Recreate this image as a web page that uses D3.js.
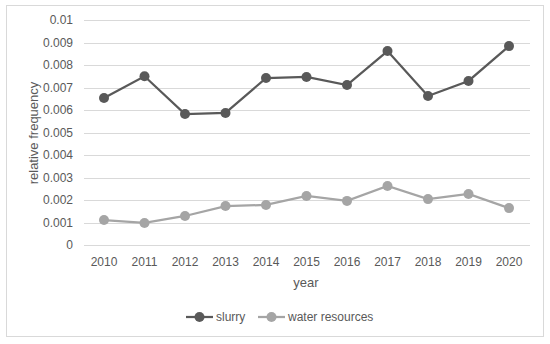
<!DOCTYPE html>
<html>
<head>
<meta charset="utf-8">
<script src="https://cdn.jsdelivr.net/npm/d3@7"></script>
<style>
  body { margin: 0; background: #fff; }
  text { font-family: "Liberation Sans", Arial, sans-serif; fill: #595959; }
</style>
</head>
<body>
<svg width="550" height="344"></svg>
<script>
const years = [2010, 2011, 2012, 2013, 2014, 2015, 2016, 2017, 2018, 2019, 2020];
const slurry = [0.00653, 0.0075, 0.00582, 0.00587, 0.00742, 0.00747, 0.00711, 0.00862, 0.00662, 0.00729, 0.00884];
const waterResources = [0.00111, 0.00098, 0.00129, 0.00173, 0.00178, 0.00218, 0.00196, 0.00262, 0.00204, 0.00227, 0.00164];
const yTicks = [0, 0.001, 0.002, 0.003, 0.004, 0.005, 0.006, 0.007, 0.008, 0.009, 0.01];

const svg = d3.select('svg');

// chart border
svg.append('rect').attr('x', 6.5).attr('y', 5.5).attr('width', 537).attr('height', 331)
  .attr('fill', '#fff').attr('stroke', '#d9d9d9');

const x = d3.scalePoint().domain(years).range([104, 509]);
const y = d3.scaleLinear().domain([0, 0.01]).range([245, 20]);

// gridlines
svg.append('g').selectAll('line').data(yTicks).join('line')
  .attr('x1', 84).attr('x2', 530)
  .attr('y1', d => Math.round(y(d)) + 0.5).attr('y2', d => Math.round(y(d)) + 0.5)
  .attr('stroke', '#d9d9d9');

// y tick labels
svg.append('g').selectAll('text').data(yTicks).join('text')
  .attr('x', 73).attr('y', d => y(d)).attr('dy', '0.35em')
  .attr('text-anchor', 'end').attr('font-size', 12)
  .text(d => d === 0 ? '0' : d3.format('~g')(+d.toFixed(3)));

// x tick labels
svg.append('g').selectAll('text').data(years).join('text')
  .attr('x', d => x(d)).attr('y', 266)
  .attr('text-anchor', 'middle').attr('font-size', 12)
  .text(d => d);

svg.append('text').attr('x', 306).attr('y', 287).attr('text-anchor', 'middle')
  .attr('font-size', 13).text('year');

svg.append('text').attr('transform', 'translate(38,133) rotate(-90)')
  .attr('text-anchor', 'middle').attr('font-size', 13).text('relative frequency');

const series = [
  { name: 'slurry', values: slurry, color: '#595959' },
  { name: 'water resources', values: waterResources, color: '#a5a5a5' }
];

const line = d3.line().x((d, i) => x(years[i])).y(d => y(d));

series.forEach(s => {
  svg.append('path').datum(s.values).attr('d', line)
    .attr('fill', 'none').attr('stroke', s.color).attr('stroke-width', 2.25);
  svg.append('g').selectAll('circle').data(s.values).join('circle')
    .attr('cx', (d, i) => x(years[i])).attr('cy', d => y(d)).attr('r', 5)
    .attr('fill', s.color);
});

// legend
const legendX = [186, 258];
series.forEach((s, i) => {
  const g = svg.append('g').attr('transform', `translate(${legendX[i]},317)`);
  g.append('line').attr('x1', 0).attr('x2', 27).attr('stroke', s.color).attr('stroke-width', 2.25);
  g.append('circle').attr('cx', 13.5).attr('r', 5).attr('fill', s.color);
  g.append('text').attr('x', 30).attr('dy', '0.35em').attr('font-size', 12).text(s.name);
});
</script>
</body>
</html>
